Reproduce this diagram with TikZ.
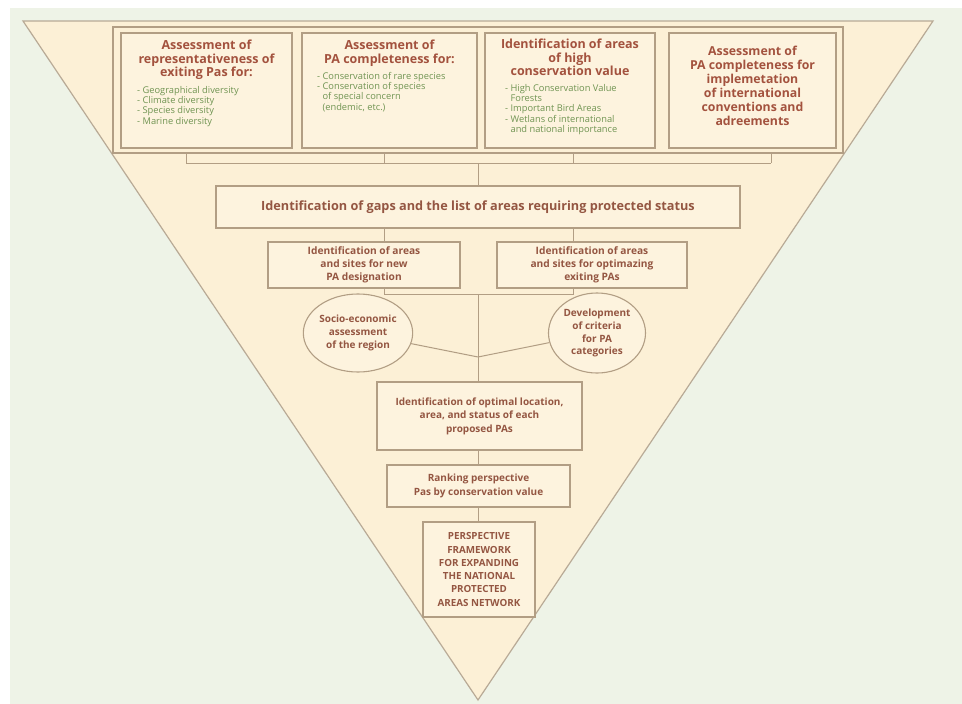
\documentclass[tikz,border=0pt]{standalone}
\usepackage{fontspec}
\setmainfont{Open Sans}
\usetikzlibrary{shapes.geometric,calc}
\definecolor{bgc}{RGB}{238,243,231}
\definecolor{trif}{RGB}{252,240,214}
\definecolor{boxf}{RGB}{253,243,222}
\definecolor{edgec}{RGB}{178,158,132}
\definecolor{triedge}{RGB}{184,170,150}
\definecolor{titlec}{RGB}{163,82,62}
\definecolor{listc}{RGB}{112,148,82}
\definecolor{midc}{RGB}{148,86,66}
\tikzset{
  tribox/.style={draw=triedge, line width=1.2pt, fill=trif},
  framebox/.style={draw=edgec, line width=1.1pt},
  topbox/.style={draw=edgec, line width=1.4pt, fill=boxf, inner sep=0pt},
  stepbox/.style={draw=edgec, line width=1.1pt, fill=boxf, inner sep=0pt, align=center, text=midc,
     font=\bfseries\fontsize{10.2}{13.3}\selectfont},
  ovalbox/.style={ellipse, draw=edgec, line width=1.1pt, fill=boxf, inner sep=0pt, align=center, text=midc,
     font=\bfseries\fontsize{10}{12.8}\selectfont},
  ttl/.style={font=\bfseries\fontsize{12.5}{13.6}\selectfont, text=titlec, align=center, inner sep=0pt},
  lst/.style={font=\fontsize{9.3}{10.3}\selectfont, text=listc, align=left, inner sep=0pt},
  conn/.style={draw=edgec, line width=1pt},
}
\begin{document}
\begin{tikzpicture}[x=1pt,y=-1pt]
\useasboundingbox (0,0) rectangle (962,704);
\fill[white] (0,0) rectangle (962,704);
\fill[bgc] (10,8) rectangle (962,704);
% triangle
\draw[tribox] (23,21) -- (933,21) -- (478,700) -- cycle;
% outer frame of top boxes
\node[framebox, minimum width=730, minimum height=126, inner sep=0pt] (frame) at (478,90) {};
% top boxes
\node[topbox, minimum width=171, minimum height=115] (b1) at (206.5,90.5) {};
\node[topbox, minimum width=175, minimum height=115] (b2) at (389.5,90.5) {};
\node[topbox, minimum width=170, minimum height=115] (b3) at (570,90.5) {};
\node[topbox, minimum width=167, minimum height=115] (b4) at (752.5,90.5) {};
\node[ttl, anchor=north] (t1) at (206.5,40) {Assessment of\\representativeness of\\exiting Pas for:};
\node[lst, anchor=north west] (l1) at (137,86) {- Geographical diversity\\- Climate diversity\\- Species diversity\\- Marine diversity};
\node[ttl, anchor=north] (t2) at (389.5,40) {Assessment of\\PA completeness for:};
\node[lst, anchor=north west] (l2) at (317,72) {- Conservation of rare species\\- Conservation of species\\\phantom{- }of special concern\\\phantom{- }(endemic, etc.)};
\node[ttl, anchor=north] (t3) at (570,39) {Identification of areas\\of high\\conservation value};
\node[lst, anchor=north west] (l3) at (505,84) {- High Conservation Value\\\phantom{- }Forests\\- Important Bird Areas\\- Wetlans of international\\\phantom{- }and national importance};
\node[ttl, font=\bfseries\fontsize{12.3}{14}\selectfont] (t4) at (752.5,86) {Assessment of\\PA completeness for\\implemetation\\of international\\conventions and\\adreements};
% gaps box
\node[stepbox, minimum width=524, minimum height=42, font=\bfseries\fontsize{12.7}{14}\selectfont] (gap) at (478,207) {Identification of gaps and the list of areas requiring protected status};
% second row
\node[stepbox, minimum width=192, minimum height=46] (nb) at (364,265) {Identification of areas\\and sites for new\\PA designation};
\node[stepbox, minimum width=190, minimum height=46] (ob) at (592,265) {Identification of areas\\and sites for optimazing\\exiting PAs};
% ellipses
\node[ovalbox, minimum width=90, minimum height=78] (e1) at (358,333) {Socio-economic\\assessment\\of the region};
\node[ovalbox, minimum width=97, minimum height=80] (e2) at (597,333) {Development\\of criteria\\for PA\\categories};
% lower boxes
\node[stepbox, minimum width=205, minimum height=68, font=\bfseries\fontsize{10}{13.5}\selectfont] (opt) at (479.5,416) {Identification of optimal location,\\area, and status of each\\proposed PAs};
\node[stepbox, minimum width=183, minimum height=42, font=\bfseries\fontsize{10}{14}\selectfont] (rank) at (478.5,486) {Ranking perspective\\Pas by conservation value};
\node[stepbox, minimum width=112, minimum height=95, font=\bfseries\fontsize{9.8}{13.3}\selectfont] (fin) at (479,569.5) {PERSPECTIVE\\FRAMEWORK\\FOR EXPANDING\\THE NATIONAL\\PROTECTED\\AREAS NETWORK};
% helper coordinates
\coordinate (xa) at (186,163);
\coordinate (xb) at (384,163);
\coordinate (xc) at (573,163);
\coordinate (xd) at (771,163);
\coordinate (xm) at (478,163);
\coordinate (jl) at (384,294);
\coordinate (jr) at (573,294);
\coordinate (jm) at (478,294);
\coordinate (meet) at (478,357);
% connectors
\draw[conn] (xa |- frame.south) -- (xa);
\draw[conn] (xb |- frame.south) -- (xb);
\draw[conn] (xc |- frame.south) -- (xc);
\draw[conn] (xd |- frame.south) -- (xd);
\draw[conn] (xa) -- (xd);
\draw[conn] (xm) -- (xm |- gap.north);
\draw[conn] (xb |- gap.south) -- (xb |- nb.north);
\draw[conn] (xc |- gap.south) -- (xc |- ob.north);
\draw[conn] (jl |- nb.south) -- (jl) -- (jr) -- (jr |- ob.south);
\draw[conn] (jm) -- (jm |- opt.north);
\draw[conn] (e1) -- (meet);
\draw[conn] (e2) -- (meet);
\draw[conn] (opt.south -| rank.north) -- (rank.north);
\draw[conn] (rank.south) -- (rank.south |- fin.north);
\end{tikzpicture}
\end{document}
